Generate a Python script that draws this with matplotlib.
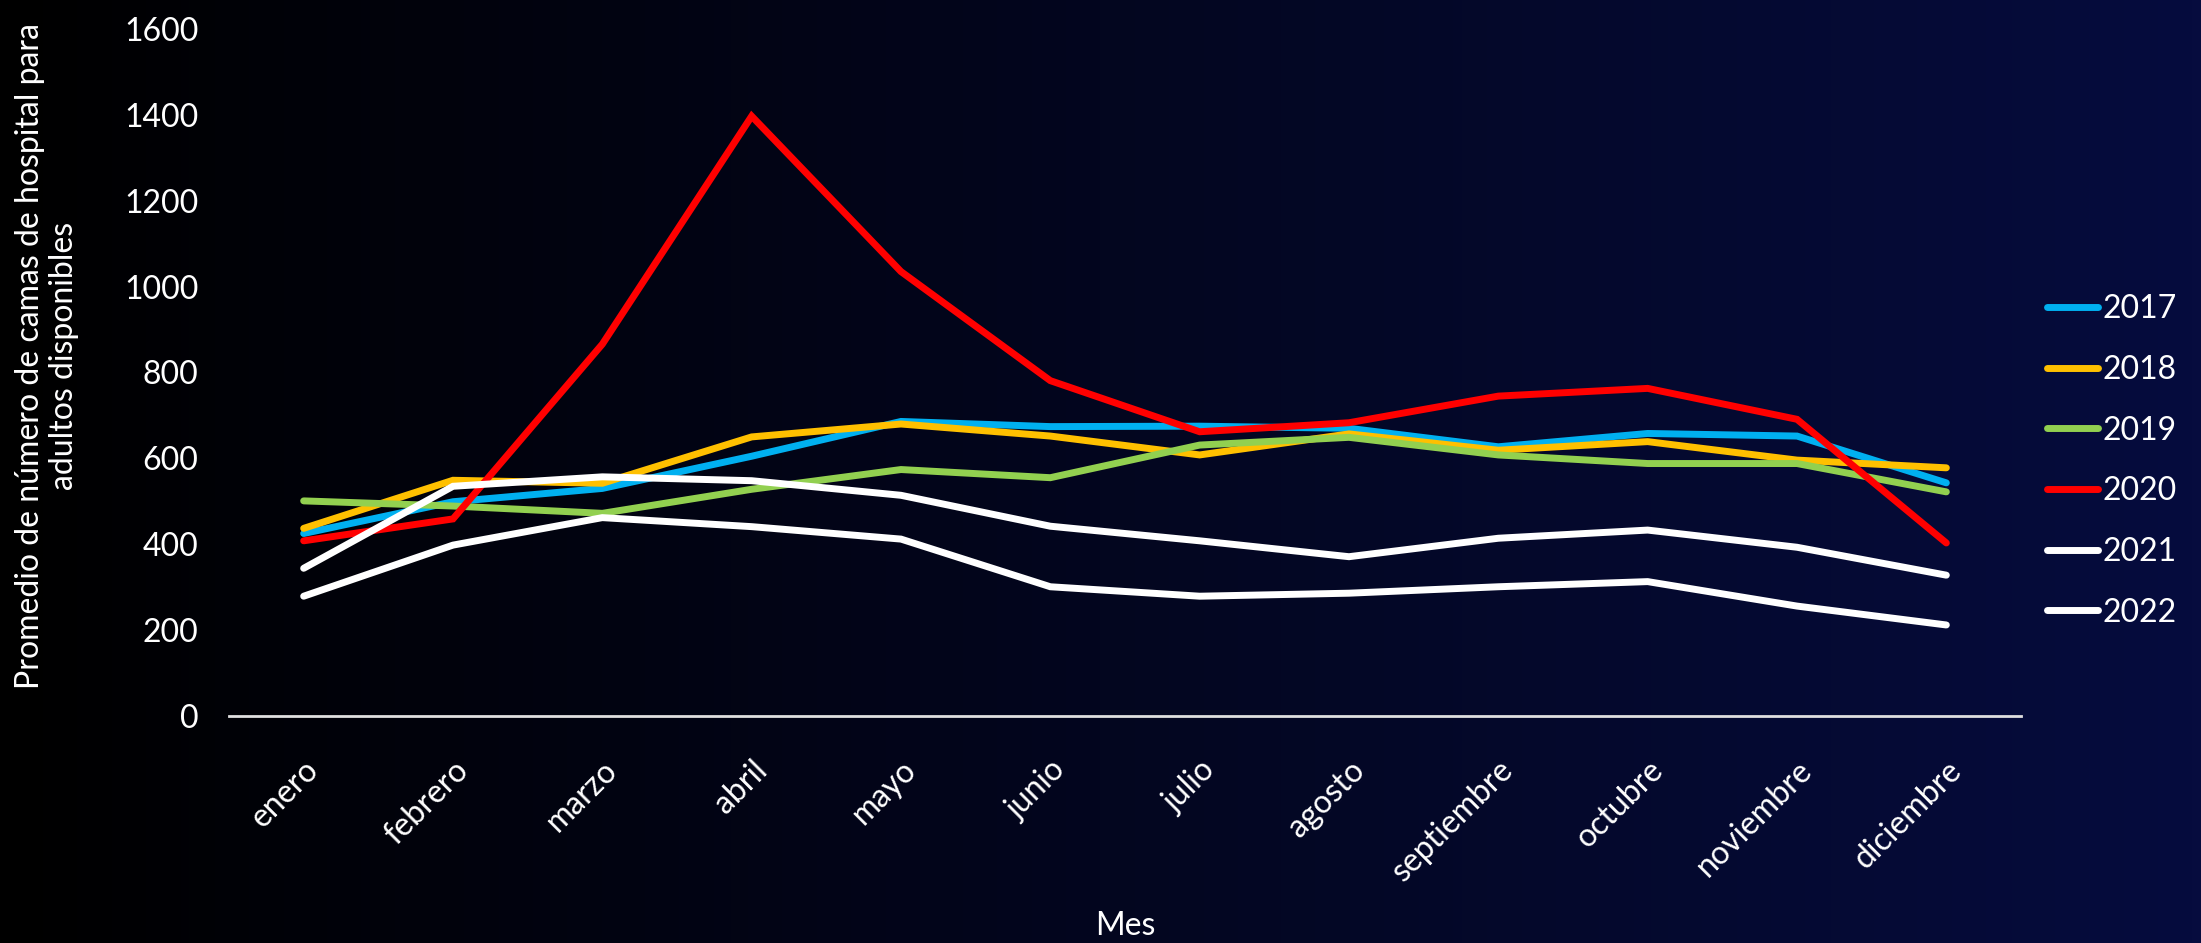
import numpy as np
import matplotlib
matplotlib.use("Agg")
import matplotlib.pyplot as plt

plt.rcParams['font.family'] = ['Lato', 'DejaVu Sans']

meses = ["enero", "febrero", "marzo", "abril", "mayo", "junio", "julio",
         "agosto", "septiembre", "octubre", "noviembre", "diciembre"]
anios = ["2017", "2018", "2019", "2020", "2021", "2022"]

v2017 = [425, 499, 530, 605, 686, 674, 675, 670, 627, 658, 652, 543]
v2018 = [437, 549, 542, 650, 680, 652, 608, 657, 619, 639, 596, 578]
v2019 = [501, 489, 472, 528, 574, 555, 631, 649, 608, 588, 588, 522]
v2020 = [408, 459, 866, 1397, 1035, 781, 662, 683, 745, 763, 691, 403]
v2021 = [344, 535, 557, 548, 514, 442, 408, 371, 414, 433, 393, 328]
v2022 = [279, 398, 462, 441, 412, 301, 279, 286, 301, 313, 256, 212]

colores = ["#00B0F0", "#FFC000", "#92D050", "#FF0000", "#FFFFFF", "#FFFFFF"]
series = [v2017, v2018, v2019, v2020, v2021, v2022]

W, H = 2201, 943
fig = plt.figure(figsize=(W / 100, H / 100), dpi=100)

# fondo degradado negro -> azul marino
bg = fig.add_axes([0, 0, 1, 1], zorder=-10)
grad = np.linspace(0, 1, 256)
rgb = np.zeros((1, 256, 3))
rgb[0, :, 0] = grad * 6 / 255
rgb[0, :, 1] = grad * 12 / 255
rgb[0, :, 2] = grad * 62 / 255
bg.imshow(rgb, aspect="auto", extent=[0, 1, 0, 1])
bg.axis("off")

ax = fig.add_axes([229 / W, 1 - 716 / H, (2021 - 229) / W, (716 - 29) / H])
ax.patch.set_alpha(0)

x = np.arange(len(meses))
for anio, vals, col in zip(anios, series, colores):
    ax.plot(x, vals, color=col, lw=5, label=anio, solid_capstyle="round",
            solid_joinstyle="miter")

ax.set_xlim(-0.5, 11.5)
ax.set_ylim(0, 1600)
ax.set_yticks(range(0, 1601, 200))
ax.set_xticks(x)
ax.set_xticklabels(meses, rotation=45, ha="right", rotation_mode="anchor")
ax.tick_params(axis="both", length=0, colors="white", labelsize=23)
ax.tick_params(axis="x", pad=28)
ax.tick_params(axis="y", pad=22)
for s in ["top", "right", "left"]:
    ax.spines[s].set_visible(False)
ax.spines["bottom"].set_color("#E0E0E0")
ax.spines["bottom"].set_linewidth(2)

fig.text(47 / W, 1 - 356 / H,
         "Promedio de número de camas de hospital para\nadultos disponibles",
         rotation=90, ha="center", va="center", color="white", fontsize=23,
         linespacing=1.2)
fig.text(1125 / W, 1 - 926 / H, "Mes", ha="center", va="center",
         color="white", fontsize=23)

leg = fig.legend(loc="center left", bbox_to_anchor=(2018 / W, 1 - 461 / H),
                 frameon=False, fontsize=23, labelcolor="white",
                 handlelength=1.6, handletextpad=0.15, labelspacing=0.96)

fig.savefig("out.png", dpi=100, facecolor="black")
